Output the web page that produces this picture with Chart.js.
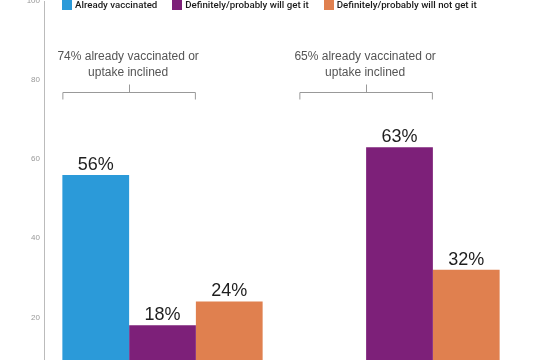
<!DOCTYPE html>
<html>
<head>
<meta charset="utf-8">
<script src="https://cdn.jsdelivr.net/npm/chart.js@4/dist/chart.umd.min.js"></script>
<style>
  html, body { margin: 0; padding: 0; background: #fff; }
  #wrap { position: relative; width: 550px; height: 360px; overflow: hidden; }
  #c { position: absolute; left: 0; top: -20px; }
  #legend { position: absolute; left: 62px; top: -1px; display: flex; gap: 15px;
            font-family: Roboto, "Liberation Sans", Arial, sans-serif; font-weight: 500; font-size: 9.7px; color: #1a1a1a; line-height: 11px; }
  #legend .item { display: flex; align-items: center; gap: 3px; white-space: nowrap; }
  #legend .box { width: 10px; height: 10px; display: inline-block; }
</style>
</head>
<body>
<div id="wrap">
  <canvas id="c" width="550" height="400"></canvas>
  <div id="legend"></div>
</div>
<script>
const categories = ["Group A", "Group B"];
const seriesNames = ["Already vaccinated", "Definitely/probably will get it", "Definitely/probably will not get it"];
const alreadyVaccinated = [56, null];
const willGetIt = [18, 63];
const willNotGetIt = [24, 32];
const yTicks = [20, 40, 60, 80, 100];
const groupNotes = [
  ["74% already vaccinated or", "uptake inclined"],
  ["65% already vaccinated or", "uptake inclined"]
];

const colors = ["#2B9AD9", "#7D2079", "#E0804F"];
const seriesValues = [alreadyVaccinated, willGetIt, willNotGetIt];

// HTML legend
const leg = document.getElementById('legend');
seriesNames.forEach((n, i) => {
  const it = document.createElement('span'); it.className = 'item';
  const b = document.createElement('span'); b.className = 'box'; b.style.background = colors[i];
  const t = document.createElement('span'); t.textContent = n;
  it.appendChild(b); it.appendChild(t); leg.appendChild(it);
});

const labelPlugin = {
  id: 'valueLabels',
  afterDatasetsDraw(chart) {
    const ctx = chart.ctx;
    ctx.save();
    ctx.font = '18px "Liberation Sans", Arial, sans-serif';
    ctx.fillStyle = '#1e1e1e';
    ctx.textAlign = 'center';
    ctx.textBaseline = 'middle';
    chart.data.datasets.forEach((ds, di) => {
      const meta = chart.getDatasetMeta(di);
      meta.data.forEach((el, i) => {
        const v = ds.data[i];
        if (v === null || v === undefined) return;
        ctx.fillText(v + '%', el.x, el.y - 10);
      });
    });
    ctx.restore();
  }
};

const bracketPlugin = {
  id: 'brackets',
  afterDatasetsDraw(chart) {
    const ctx = chart.ctx;
    const ys = chart.scales.y;
    const meta = chart.getDatasetMeta(1);
    ctx.save();
    groupNotes.forEach((lines, i) => {
      const el = meta.data[i];
      const w = el.width;
      const left = el.x - 1.5 * w;
      const right = el.x + 0.5 * w;
      const mid = (left + right) / 2;
      const y = Math.round(ys.getPixelForValue(77)) + 0.5;
      ctx.strokeStyle = '#999';
      ctx.lineWidth = 1;
      ctx.beginPath();
      ctx.moveTo(left + 0.5, y + 7); ctx.lineTo(left + 0.5, y);
      ctx.lineTo(right - 0.5, y); ctx.lineTo(right - 0.5, y + 7);
      ctx.moveTo(Math.round(mid) + 0.5, y); ctx.lineTo(Math.round(mid) + 0.5, y - 8);
      ctx.stroke();
      ctx.font = '12px "Liberation Sans", Arial, sans-serif';
      ctx.fillStyle = '#555';
      ctx.textAlign = 'center';
      ctx.textBaseline = 'middle';
      ctx.fillText(lines[0], mid - 1, y - 36);
      ctx.fillText(lines[1], mid - 1, y - 20);
    });
    ctx.restore();
  }
};

new Chart(document.getElementById('c'), {
  type: 'bar',
  data: {
    labels: categories,
    datasets: seriesNames.map((n, i) => ({
      label: n,
      data: seriesValues[i],
      backgroundColor: colors[i],
      borderWidth: 0,
      categoryPercentage: 0.845,
      barPercentage: 1.0
    }))
  },
  options: {
    responsive: false,
    animation: false,
    devicePixelRatio: 1,
    layout: { padding: { top: 21, right: 32, bottom: 20, left: 0 } },
    plugins: { legend: { display: false }, tooltip: { enabled: false } },
    scales: {
      x: { display: false },
      y: {
        min: 9.2, max: 100,
        afterBuildTicks(axis) { axis.ticks = yTicks.map(v => ({ value: v })); },
        afterFit(scale) { scale.width = 44; },
        grid: { display: true, drawOnChartArea: false, drawTicks: false },
        border: { display: true, color: '#bbb', width: 1 },
        ticks: {
          padding: 4,
          color: '#999',
          font: { family: '"Liberation Sans", Arial, sans-serif', size: 8 }
        }
      }
    }
  },
  plugins: [labelPlugin, bracketPlugin]
});
</script>
</body>
</html>
